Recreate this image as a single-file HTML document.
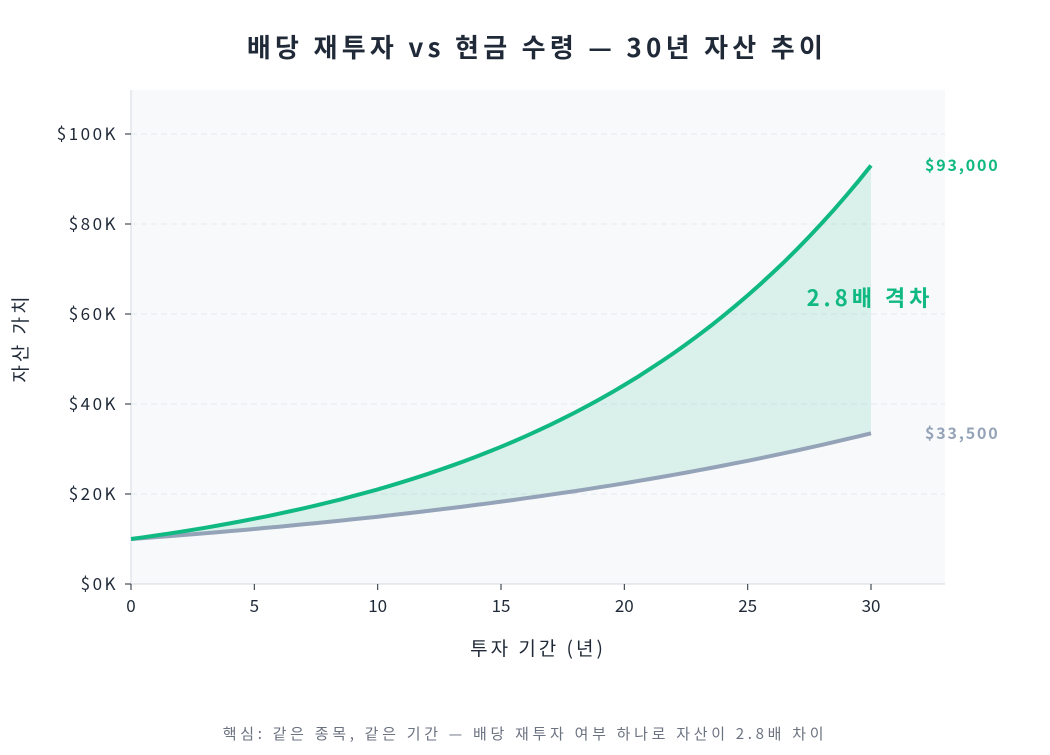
<!DOCTYPE html>
<html><head><meta charset="utf-8"><style>
body{margin:0;background:#fff;}
svg text{font-family:"Noto Sans CJK KR","Liberation Sans",sans-serif;}
</style></head><body>
<svg id="s" width="1050" height="750" viewBox="0 0 1050 750" xmlns="http://www.w3.org/2000/svg">
<rect x="0" y="0" width="1050" height="750" fill="#fff"/>
<rect x="131" y="90" width="814" height="494" fill="#f8f9fb"/>
<g stroke="#e6eaef" stroke-dasharray="6,4" stroke-width="1">
<line x1="131" x2="945" y1="494" y2="494"/><line x1="131" x2="945" y1="404" y2="404"/>
<line x1="131" x2="945" y1="314" y2="314"/><line x1="131" x2="945" y1="224" y2="224"/>
<line x1="131" x2="945" y1="134" y2="134"/>
</g>
<line x1="131" y1="90" x2="131" y2="584" stroke="#d5d9e0"/>
<line x1="131" y1="584" x2="945" y2="584" stroke="#d5d9e0"/>
<path id="fill" fill="#10b981" fill-opacity="0.13"/>
<path id="gray" fill="none" stroke="#94a3b8" stroke-width="4"/>
<path id="green" fill="none" stroke="#10b981" stroke-width="4"/>
<g font-size="17" fill="#1f2937" text-anchor="end" letter-spacing="2.5">
<text x="118" y="590">$0K</text><text x="118" y="500">$20K</text><text x="118" y="410">$40K</text>
<text x="118" y="320">$60K</text><text x="118" y="230">$80K</text><text x="118" y="140">$100K</text>
</g>
<g stroke="#1f2937"><line x1="125" x2="131" y1="584" y2="584"/><line x1="125" x2="131" y1="494" y2="494"/><line x1="125" x2="131" y1="404" y2="404"/><line x1="125" x2="131" y1="314" y2="314"/><line x1="125" x2="131" y1="224" y2="224"/><line x1="125" x2="131" y1="134" y2="134"/>
<line y1="584" y2="590" x1="131" x2="131"/><line y1="584" y2="590" x1="254.3" x2="254.3"/><line y1="584" y2="590" x1="377.7" x2="377.7"/><line y1="584" y2="590" x1="501" x2="501"/><line y1="584" y2="590" x1="624.3" x2="624.3"/><line y1="584" y2="590" x1="747.7" x2="747.7"/><line y1="584" y2="590" x1="871" x2="871"/></g>
<g font-size="17" fill="#1f2937" text-anchor="middle">
<text x="131" y="612">0</text><text x="254.3" y="612">5</text><text x="377.7" y="612">10</text><text x="501" y="612">15</text><text x="624.3" y="612">20</text><text x="747.7" y="612">25</text><text x="871" y="612">30</text>
</g>
<text x="538" y="655" font-size="19" fill="#1f2937" text-anchor="middle" letter-spacing="3">투자 기간 (년)</text>
<text transform="translate(27,338) rotate(-90)" font-size="19" fill="#1f2937" text-anchor="middle" letter-spacing="3">자산 가치</text>
<text x="537" y="57" font-size="26" font-weight="bold" fill="#1f2937" text-anchor="middle" letter-spacing="4.3">배당 재투자 vs 현금 수령 — 30년 자산 추이</text>
<text x="925" y="171" font-size="16" font-weight="bold" fill="#10b981" letter-spacing="1.8">$93,000</text>
<text x="925" y="439" font-size="16" font-weight="bold" fill="#94a3b8" letter-spacing="1.8">$33,500</text>
<text x="870" y="306" font-size="22" font-weight="bold" fill="#10b981" text-anchor="middle" letter-spacing="4">2.8배 격차</text>
<text x="525" y="739" font-size="15" fill="#6b7280" text-anchor="middle" letter-spacing="3.7">핵심: 같은 종목, 같은 기간 — 배당 재투자 여부 하나로 자산이 2.8배 차이</text>
</svg>
<script>
function X(t){return 131+t*740/30;}function Y(v){return 584-v*4.5/1000;}
var g=[],h=[];
for(var i=0;i<=60;i++){var t=i/2;g.push(X(t).toFixed(1)+","+Y(10000*Math.exp(Math.log(9.3)*t/30)).toFixed(1));h.push(X(t).toFixed(1)+","+Y(10000*Math.exp(Math.log(3.35)*t/30)).toFixed(1));}
document.getElementById("green").setAttribute("d","M"+g.join("L"));
document.getElementById("gray").setAttribute("d","M"+h.join("L"));
document.getElementById("fill").setAttribute("d","M"+g.join("L")+"L"+h.slice().reverse().join("L")+"Z");
</script>
</body></html>
